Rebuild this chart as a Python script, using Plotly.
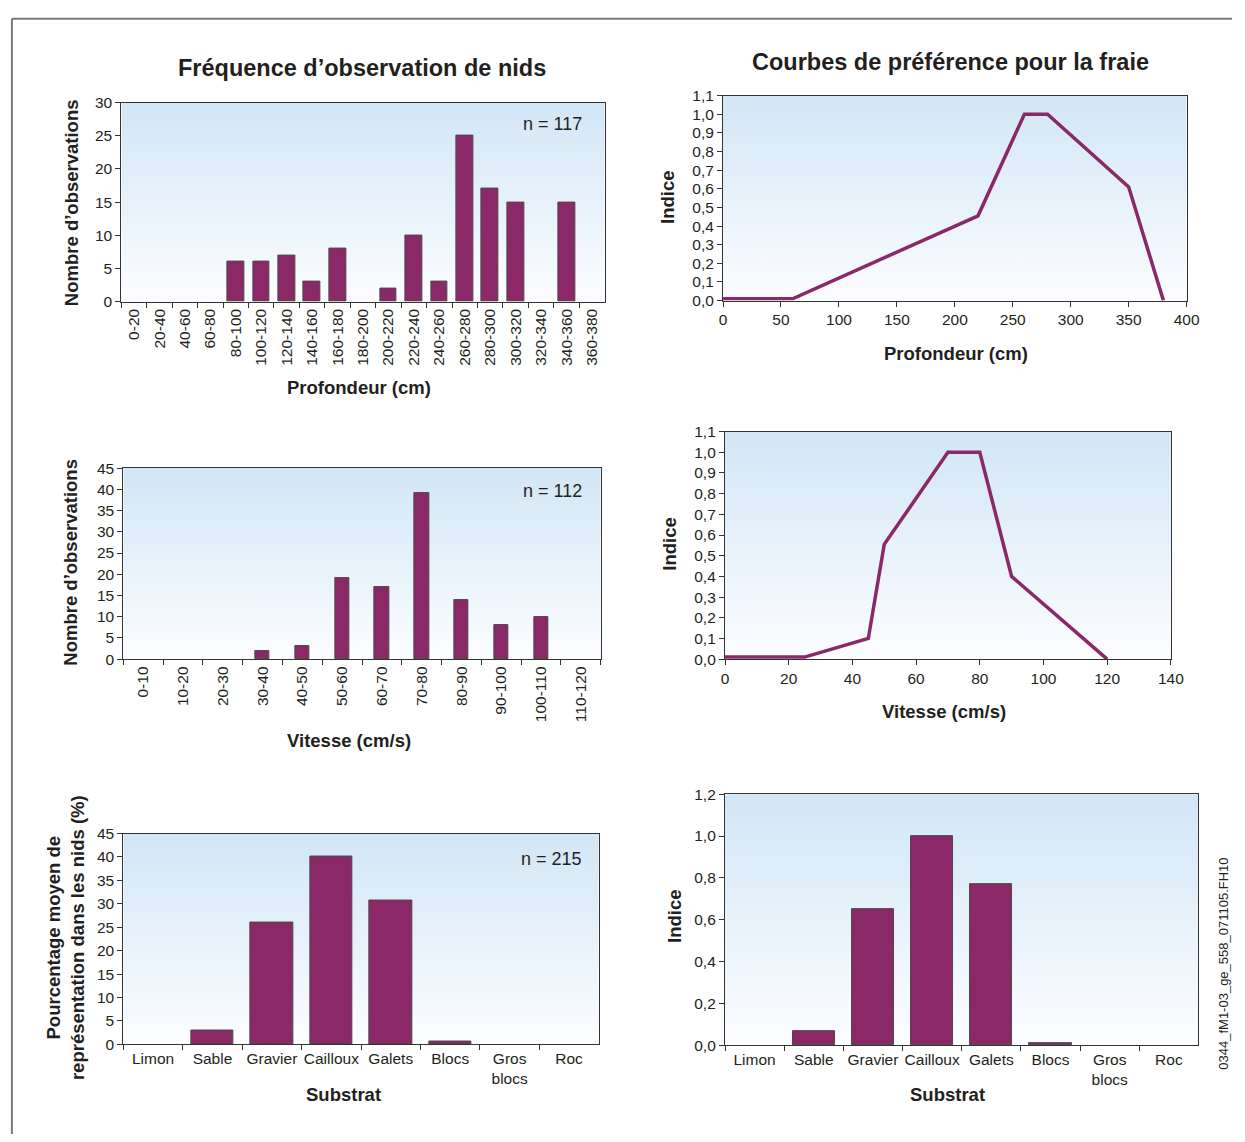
import base64
import plotly.graph_objects as go

# ---------------- data ----------------
depth_bins = ["0-20", "20-40", "40-60", "60-80", "80-100", "100-120", "120-140", "140-160",
              "160-180", "180-200", "200-220", "220-240", "240-260", "260-280", "280-300",
              "300-320", "320-340", "340-360", "360-380"]
depth_counts = [0, 0, 0, 0, 6, 6, 7, 3, 8, 0, 2, 10, 3, 25, 17, 15, 0, 15, 0]

speed_bins = ["0-10", "10-20", "20-30", "30-40", "40-50", "50-60", "60-70", "70-80",
              "80-90", "90-100", "100-110", "110-120"]
speed_counts = [0, 0, 0, 2, 3, 19, 17, 39, 14, 8, 10, 0]

substrates = ["Limon", "Sable", "Gravier", "Cailloux", "Galets", "Blocs", "Gros<br>blocs", "Roc"]
substrate_pct = [0, 3, 26, 40, 30.7, 0.5, 0, 0]
substrate_index = [0, 0.07, 0.65, 1.0, 0.77, 0.01, 0, 0]

depth_pref_x = [0, 60, 220, 260, 280, 350, 380]
depth_pref_y = [0.01, 0.01, 0.455, 1.0, 1.0, 0.61, 0.0]

speed_pref_x = [0, 25, 45, 50, 70, 80, 90, 120]
speed_pref_y = [0.01, 0.01, 0.10, 0.555, 1.0, 1.0, 0.40, 0.0]

n_labels = ["n = 117", "n = 112", "n = 215"]

# ---------------- style ----------------
W, H = 1245, 1142
PURPLE = "#8a2868"
TXT = "#231f20"
FONT = "Liberation Sans, Arial, sans-serif"
TICK = 15.5
AX = 18.5
TITLE = 23.5


def xd(a, b):
    return [a / W, b / W]


def yd(top, bottom):
    return [1 - bottom / H, 1 - top / H]


def outline(vals):
    return dict(color="#4a4a4a", width=[1 if v > 0 else 0 for v in vals])


# plot areas in pixels: (left, right, top, bottom)
areas = {
    1: (119, 609, 95, 297),
    2: (729, 1199, 88, 296),
    3: (121, 605, 466, 660),
    4: (731, 1183, 429, 660),
    5: (121, 603, 837, 1051),
    6: (731, 1211, 797, 1052),
}

fig = go.Figure()

fig.add_trace(go.Bar(x=depth_bins, y=depth_counts, xaxis="x", yaxis="y", width=0.66,
                     marker=dict(color=PURPLE, line=outline(depth_counts))))
fig.add_trace(go.Scatter(x=depth_pref_x, y=depth_pref_y, xaxis="x2", yaxis="y2", mode="lines",
                         line=dict(color=PURPLE, width=3.5)))
fig.add_trace(go.Bar(x=speed_bins, y=speed_counts, xaxis="x3", yaxis="y3", width=0.36,
                     marker=dict(color=PURPLE, line=outline(speed_counts))))
fig.add_trace(go.Scatter(x=speed_pref_x, y=speed_pref_y, xaxis="x4", yaxis="y4", mode="lines",
                         line=dict(color=PURPLE, width=3.5)))
fig.add_trace(go.Bar(x=substrates, y=substrate_pct, xaxis="x5", yaxis="y5", width=0.71,
                     marker=dict(color=PURPLE, line=outline(substrate_pct))))
fig.add_trace(go.Bar(x=substrates, y=substrate_index, xaxis="x6", yaxis="y6", width=0.71,
                     marker=dict(color=PURPLE, line=outline(substrate_index))))

tickfont = dict(family=FONT, size=TICK, color=TXT)
common = dict(showline=True, linecolor="#333333", linewidth=1.2, mirror=True, ticks="outside",
              ticklen=5, tickcolor="#333333", showgrid=False, zeroline=False, tickfont=tickfont)

layout = dict(width=W, height=H, margin=dict(l=0, r=0, t=0, b=0), showlegend=False,
              paper_bgcolor="white", plot_bgcolor="rgba(0,0,0,0)", separators=", ",
              font=dict(family=FONT, color=TXT), bargap=0)

# x axes
layout["xaxis"] = dict(common, domain=xd(*areas[1][:2]), anchor="y", type="category",
                       tickson="boundaries", tickangle=-90)
layout["xaxis2"] = dict(common, domain=xd(*areas[2][:2]), anchor="y2", range=[0, 400], dtick=50,
                        tick0=0)
layout["xaxis3"] = dict(common, domain=xd(*areas[3][:2]), anchor="y3", type="category",
                        tickson="boundaries", tickangle=-90)
layout["xaxis4"] = dict(common, domain=xd(*areas[4][:2]), anchor="y4", range=[0, 140], dtick=20,
                        tick0=0)
layout["xaxis5"] = dict(common, domain=xd(*areas[5][:2]), anchor="y5", type="category",
                        tickson="boundaries", tickangle=0)
layout["xaxis6"] = dict(common, domain=xd(*areas[6][:2]), anchor="y6", type="category",
                        tickson="boundaries", tickangle=0)
# y axes
layout["yaxis"] = dict(common, domain=yd(*areas[1][2:]), anchor="x", range=[0, 30], dtick=5)
layout["yaxis2"] = dict(common, domain=yd(*areas[2][2:]), anchor="x2", range=[0, 1.1], dtick=0.1,
                        tickformat=".1f")
layout["yaxis3"] = dict(common, domain=yd(*areas[3][2:]), anchor="x3", range=[0, 45], dtick=5)
layout["yaxis4"] = dict(common, domain=yd(*areas[4][2:]), anchor="x4", range=[0, 1.1], dtick=0.1,
                        tickformat=".1f")
layout["yaxis5"] = dict(common, domain=yd(*areas[5][2:]), anchor="x5", range=[0, 45], dtick=5)
layout["yaxis6"] = dict(common, domain=yd(*areas[6][2:]), anchor="x6", range=[0, 1.2], dtick=0.2,
                        tickformat=".1f")

# gradient background image for the plot areas
svg = ('<svg xmlns="http://www.w3.org/2000/svg" width="100" height="100" preserveAspectRatio="none">'
       '<defs><linearGradient id="g" x1="0" y1="0" x2="0" y2="1">'
       '<stop offset="0" stop-color="#d2e6f6"/><stop offset="1" stop-color="#fcfdff"/>'
       '</linearGradient></defs><rect width="100" height="100" fill="url(#g)"/></svg>')
src = "data:image/svg+xml;base64," + base64.b64encode(svg.encode()).decode()
images = []
for k, (l, r, t, b) in areas.items():
    images.append(dict(source=src, xref="paper", yref="paper", x=l / W, y=1 - t / H,
                       sizex=(r - l) / W, sizey=(b - t) / H, sizing="stretch",
                       xanchor="left", yanchor="top", layer="below"))
layout["images"] = images

ann = []


def text(s, px, py, size, bold=False, angle=0, xanchor="center"):
    ann.append(dict(text=("<b>%s</b>" % s) if bold else s, x=px / W, y=1 - py / H,
                    xref="paper", yref="paper", showarrow=False, textangle=angle,
                    xanchor=xanchor, yanchor="middle",
                    font=dict(family=FONT, size=size, color=TXT)))


text("Fréquence d’observation de nids", 363, 60, TITLE, bold=True)
text("Courbes de préférence pour la fraie", 960, 54, TITLE, bold=True)
text("Profondeur (cm)", 360, 384, AX, bold=True)
text("Profondeur (cm)", 965, 350, AX, bold=True)
text("Vitesse (cm/s)", 350, 743, AX, bold=True)
text("Vitesse (cm/s)", 953, 713, AX, bold=True)
text("Substrat", 344, 1102, AX, bold=True)
text("Substrat", 957, 1102, AX, bold=True)
text("Nombre d’observations", 68, 197, AX, bold=True, angle=-90)
text("Indice", 672, 191, AX, bold=True, angle=-90)
text("Nombre d’observations", 68, 562, AX, bold=True, angle=-90)
text("Indice", 675, 543, AX, bold=True, angle=-90)
text("Pourcentage moyen de<br>représentation dans les nids (%)", 63, 943, AX, bold=True, angle=-90)
text("Indice", 680, 921, AX, bold=True, angle=-90)
text(n_labels[0], 588, 117, 18, xanchor="right")
text(n_labels[1], 588, 489, 18, xanchor="right")
text(n_labels[2], 588, 863, 18, xanchor="right")
text("0344_fM1-03_ge_558_071105.FH10", 1236, 969, 13, angle=-90)
layout["annotations"] = ann

# outer frame (top and left edges)
layout["shapes"] = [
    dict(type="line", xref="paper", yref="paper", x0=8 / W, x1=8 / W, y0=0, y1=1 - 10 / H,
         line=dict(color="#7a7a7a", width=2)),
    dict(type="line", xref="paper", yref="paper", x0=8 / W, x1=1, y0=1 - 10 / H, y1=1 - 10 / H,
         line=dict(color="#7a7a7a", width=2)),
]

fig.update_layout(**layout)
fig.write_html("out.html", config={"displayModeBar": False},
               post_script="document.body.style.margin='0';document.body.style.overflow='hidden';")
